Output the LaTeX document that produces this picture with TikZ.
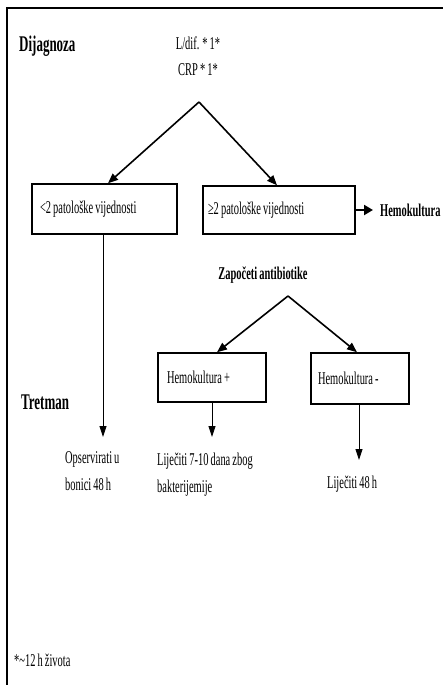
\documentclass[tikz,border=0pt]{standalone}
\usepackage{fontspec}
\setmainfont{Liberation Serif}[FakeStretch=0.58, WordSpace=0.8]
\usetikzlibrary{arrows.meta}
\begin{document}
\begin{tikzpicture}[x=1pt,y=-1pt,
  txt/.style={inner sep=0pt,font=\fontsize{18}{27}\selectfont,align=left},
  head/.style={inner sep=0pt,font=\fontsize{22.4}{26}\selectfont\bfseries},
  bhead/.style={inner sep=0pt,font=\fontsize{18}{22}\selectfont\bfseries},
  box/.style={draw,line width=1.5pt,inner ysep=0pt,align=flush left,font=\fontsize{18}{22}\selectfont},
  arr/.style={line width=1.6pt,-{Triangle[length=10pt,width=8pt]}},
  thinarr/.style={line width=0.9pt,-{Triangle[length=11pt,width=7pt]}},
  bigarr/.style={line width=2pt,-{Triangle[length=9pt,width=10pt]}}]
\useasboundingbox (0,0) rectangle (443,685);
\fill[white] (0,0) rectangle (443,685);
\draw[line width=2pt] (7,685) -- (7,8) -- (443,8);

% headings
\node[head,anchor=west] (dij) at (19,46) {Dijagnoza};
\node[head,anchor=west] (tret) at (21,402) {Tretman};

% top tests
\node[txt] (ldif) at (198,43) {L/dif. * 1*};
\node[txt] (crp) at (198,70) {CRP * 1*};
\coordinate (apex1) at (199,102);

% first level boxes
\node[box,minimum width=145,minimum height=50,text width=129,inner xsep=8] (b1) at (104.5,209) {<2 patološke vijednosti};
\node[box,minimum width=152,minimum height=48,text width=142,inner xsep=5] (b2) at (279,210) {≥2 patološke vijednosti};

\draw[arr] (apex1) -- ([xshift=3.5]b1.north);
\draw[arr] (apex1) -- ([xshift=-2]b2.north);

% hemokultura
\node[bhead,anchor=west] (hemo) at (380,210) {Hemokultura};
\coordinate (hemotip) at (373,210);
\draw[bigarr] (b2.east) -- (hemotip);

% start antibiotics
\node[bhead] (zap) at (263,275) {Započeti antibiotike};
\coordinate (apex2) at (288,296);

\node[box,minimum width=108,minimum height=49,text width=90,inner xsep=9] (hp) at (212,377.5) {Hemokultura +};
\node[box,minimum width=98,minimum height=51,text width=84,inner xsep=7] (hm) at (360,378.5) {Hemokultura -};

\draw[arr] (apex2) -- ([xshift=5]hp.north);
\draw[arr] (apex2) -- ([xshift=-3]hm.north);

% treatments
\coordinate (obstip) at (103,437);
\draw[thinarr] ([xshift=-1.5]b1.south) -- (obstip);
\node[txt,anchor=north west] (obs) at (65,451) {Opservirati u\\bonici 48 h};

\coordinate (hptip) at (212,437);
\draw[thinarr] (hp.south) -- (hptip);
\node[txt,anchor=north west] (lij1) at (157,453) {Liječiti 7-10 dana zbog\\bakterijemije};

\coordinate (hmtip) at (359,460);
\draw[thinarr] ([xshift=-1]hm.south) -- (hmtip);
\node[txt,anchor=west] (lij2) at (327,484) {Liječiti 48 h};

% footnote
\node[txt,anchor=west] (fn) at (14,660) {*\textasciitilde12 h života};
\end{tikzpicture}
\end{document}
